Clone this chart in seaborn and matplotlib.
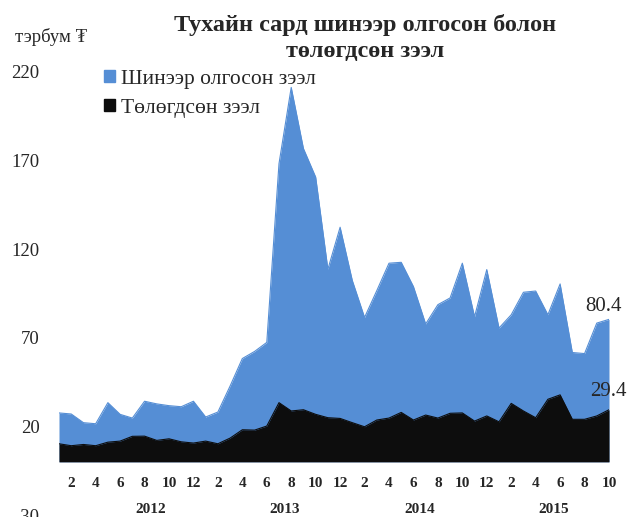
import matplotlib
matplotlib.use("Agg")
import matplotlib.pyplot as plt
from matplotlib.patches import Patch
import seaborn as sns
import pandas as pd
import numpy as np

# ---- data ----
years = [2012, 2013, 2014, 2015]
year_label_pos = [7.5, 18.5, 29.5, 40.5]
months = [m for y in years for m in range(1, 13)][:46]
new_loans = [27.6, 27.0, 22.1, 21.5, 33.4, 26.8, 24.7, 34.2, 32.7, 31.7,
             31.1, 34.2, 25.3, 28.1, 42.8, 58.3, 62.3, 67.4, 168.3, 211.3,
             176.8, 160.7, 108.7, 132.4, 102.3, 81.5, 96.6, 112.1, 112.6, 98.9,
             77.8, 88.7, 92.5, 112.1, 81.9, 108.5, 75.5, 83.0, 95.7, 96.4,
             83.0, 100.4, 61.7, 61.1, 78.3, 80.4]
repaid = [10.2, 9.1, 9.8, 9.1, 11.1, 11.7, 14.4, 14.5, 12.1, 13.0,
          11.3, 10.6, 11.7, 10.2, 13.4, 18.1, 17.9, 20.2, 33.4, 28.7,
          29.4, 26.8, 24.9, 24.5, 22.1, 19.8, 23.6, 24.7, 27.9, 23.6,
          26.4, 24.7, 27.4, 27.6, 23.0, 25.9, 22.6, 33.0, 28.7, 24.9,
          35.3, 37.8, 24.0, 24.0, 25.9, 29.4]
yticks = [-30, 20, 70, 120, 170, 220]
series_names = ["Шинээр олгосон зээл", "Төлөгдсөн зээл"]
title = "Тухайн сард шинээр олгосон болон\nтөлөгдсөн зээл"
unit = "тэрбум ₮"

BLUE = "#558ED5"
BLACK = "#0D0D0D"

sns.set_theme(style="white")
plt.rcParams["font.family"] = ["Liberation Serif", "DejaVu Serif"]

df = pd.DataFrame({"idx": np.arange(len(new_loans)), "month": months,
                   "new": new_loans, "repaid": repaid})

fig = plt.figure(figsize=(6.3, 5.17), dpi=100)
ax = fig.add_axes([59/630, 2/517, 550/630, (515-72)/517])

sns.lineplot(data=df, x="idx", y="new", color=BLUE, lw=0.8, ax=ax)
ax.fill_between(df["idx"], 0, df["new"], color=BLUE, lw=0)
sns.lineplot(data=df, x="idx", y="repaid", color=BLACK, lw=0.8, ax=ax)
ax.fill_between(df["idx"], 0, df["repaid"], color=BLACK, lw=0)

ax.set_xlim(0, 45)
ax.set_ylim(-30, 220)
ax.set_yticks(yticks)
ax.set_yticklabels([str(v) for v in yticks], fontsize=13.5)
ax.tick_params(axis="y", length=0, pad=14)
ax.set_xticks([])
ax.set_xlabel("")
ax.set_ylabel("")
for s in ax.spines.values():
    s.set_visible(False)
ax.set_facecolor("none")

# month labels (even months)
for i, m in zip(df["idx"], df["month"]):
    if m % 2 == 0:
        ax.text(i, -12, str(m), ha="center", va="center",
                fontsize=11, fontweight="bold")
for xp, y in zip(year_label_pos, years):
    ax.text(xp, -27, str(y), ha="center", va="center",
            fontsize=11, fontweight="bold")

# data labels
ax.annotate(f"{new_loans[-1]}", xy=(45, new_loans[-1]), xytext=(-5, 13),
            textcoords="offset pixels", ha="center", va="center", fontsize=15)
ax.annotate(f"{repaid[-1]}", xy=(45, repaid[-1]), xytext=(-1, 18),
            textcoords="offset pixels", ha="center", va="center", fontsize=15)

fig.text(365/630, 1-38/517, title, ha="center", va="center",
         fontsize=17.5, fontweight="bold", linespacing=1.35)
fig.text(15/630, 1-37/517, unit, ha="left", va="center", fontsize=13.5)

handles = [Patch(color=BLUE), Patch(color=BLACK)]
fig.legend(handles, series_names, loc="upper left",
           bbox_to_anchor=(104/630, 1-70/517), frameon=False, fontsize=15.5,
           handlelength=0.5, handleheight=0.5, handletextpad=0.3,
           labelspacing=0.45, borderpad=0, borderaxespad=0)

fig.savefig("out.png", dpi=100)
